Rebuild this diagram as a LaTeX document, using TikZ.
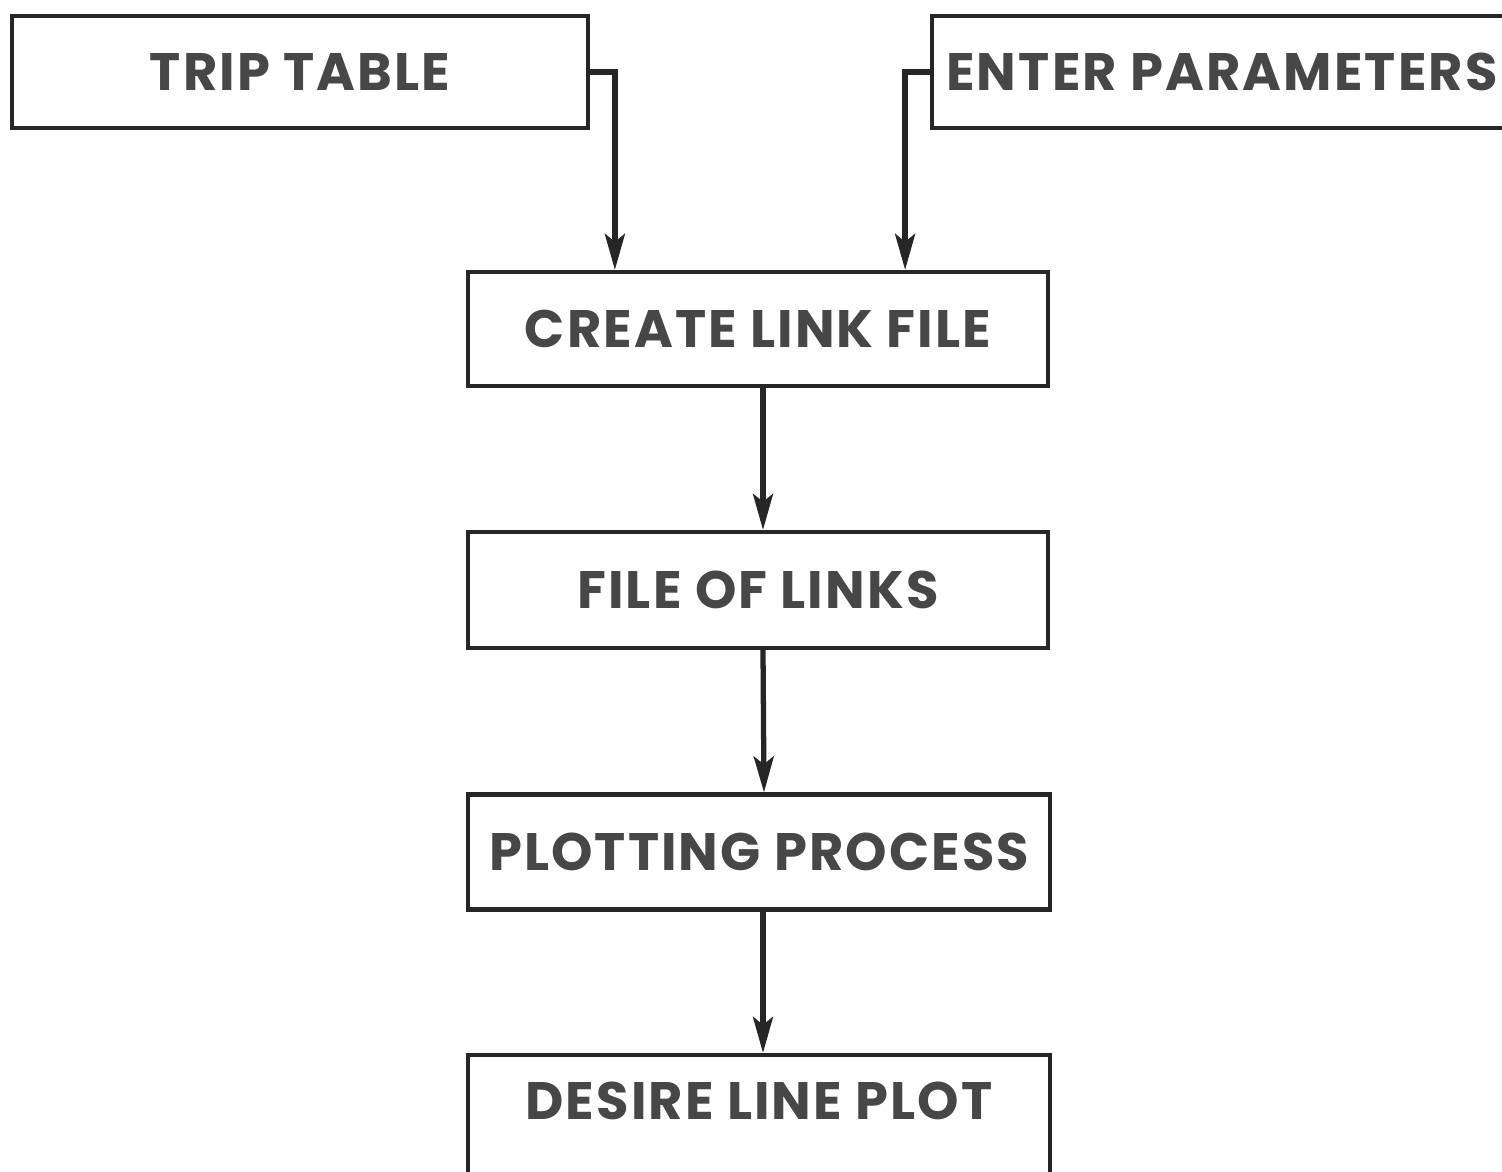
\documentclass[tikz,border=0pt]{standalone}
\usepackage{fontspec}
\setmainfont{Poppins}
\usetikzlibrary{arrows.meta,calc}
\begin{document}
\begin{tikzpicture}[x=0.02cm,y=-0.02cm,
  box/.style={draw=black!85,line width=2.4pt,rectangle,inner sep=0pt,
    font=\fontsize{30}{32}\selectfont\bfseries\addfontfeatures{LetterSpace=4},text=black!72},
  lbl/.style={inner sep=0pt,font=\fontsize{30}{32}\selectfont\bfseries\addfontfeatures{LetterSpace=4},text=black!72},
  flow/.style={draw=black!85,line width=3pt,
    -{Stealth[length=0.72cm,width=0.4cm,inset=0.16cm]}}]
\clip (0,0) rectangle (1502,1171);
\fill[white] (0,0) rectangle (1502,1171);
% input boxes
\node[box,minimum width=576*0.02cm,minimum height=112*0.02cm] (trip) at (300,72) {TRIP TABLE};
\node[box,minimum width=580*0.02cm,minimum height=112*0.02cm] (enter) at (1222,72) {ENTER PARAMETERS};
% processing chain
\node[box,minimum width=580*0.02cm,minimum height=114*0.02cm] (create) at (758,329) {CREATE LINK FILE};
\node[box,minimum width=580*0.02cm,minimum height=116*0.02cm] (links) at (758,590) {FILE OF LINKS};
\node[box,minimum width=582*0.02cm,minimum height=115*0.02cm] (plot) at (759,852) {PLOTTING PROCESS};
\node[box,minimum width=582*0.02cm,minimum height=120*0.02cm] (desire) at (759,1115) {};
\node[lbl] (desiretext) at (759,1101) {DESIRE LINE PLOT};
% connectors
\draw[flow] (trip.east) -| ($(create.north west)+(149,0)$);
\draw[flow] (enter.west) -| ($(create.north east)+(-145,0)$);
\draw[flow] ([xshift=0.1cm]create.south) -- ([xshift=0.1cm]links.north);
\draw[flow] ([xshift=0.1cm]links.south) -- ([xshift=0.1cm]plot.north);
\draw[flow] ([xshift=0.08cm]plot.south) -- ([xshift=0.08cm]desire.north);
\end{tikzpicture}
\end{document}
